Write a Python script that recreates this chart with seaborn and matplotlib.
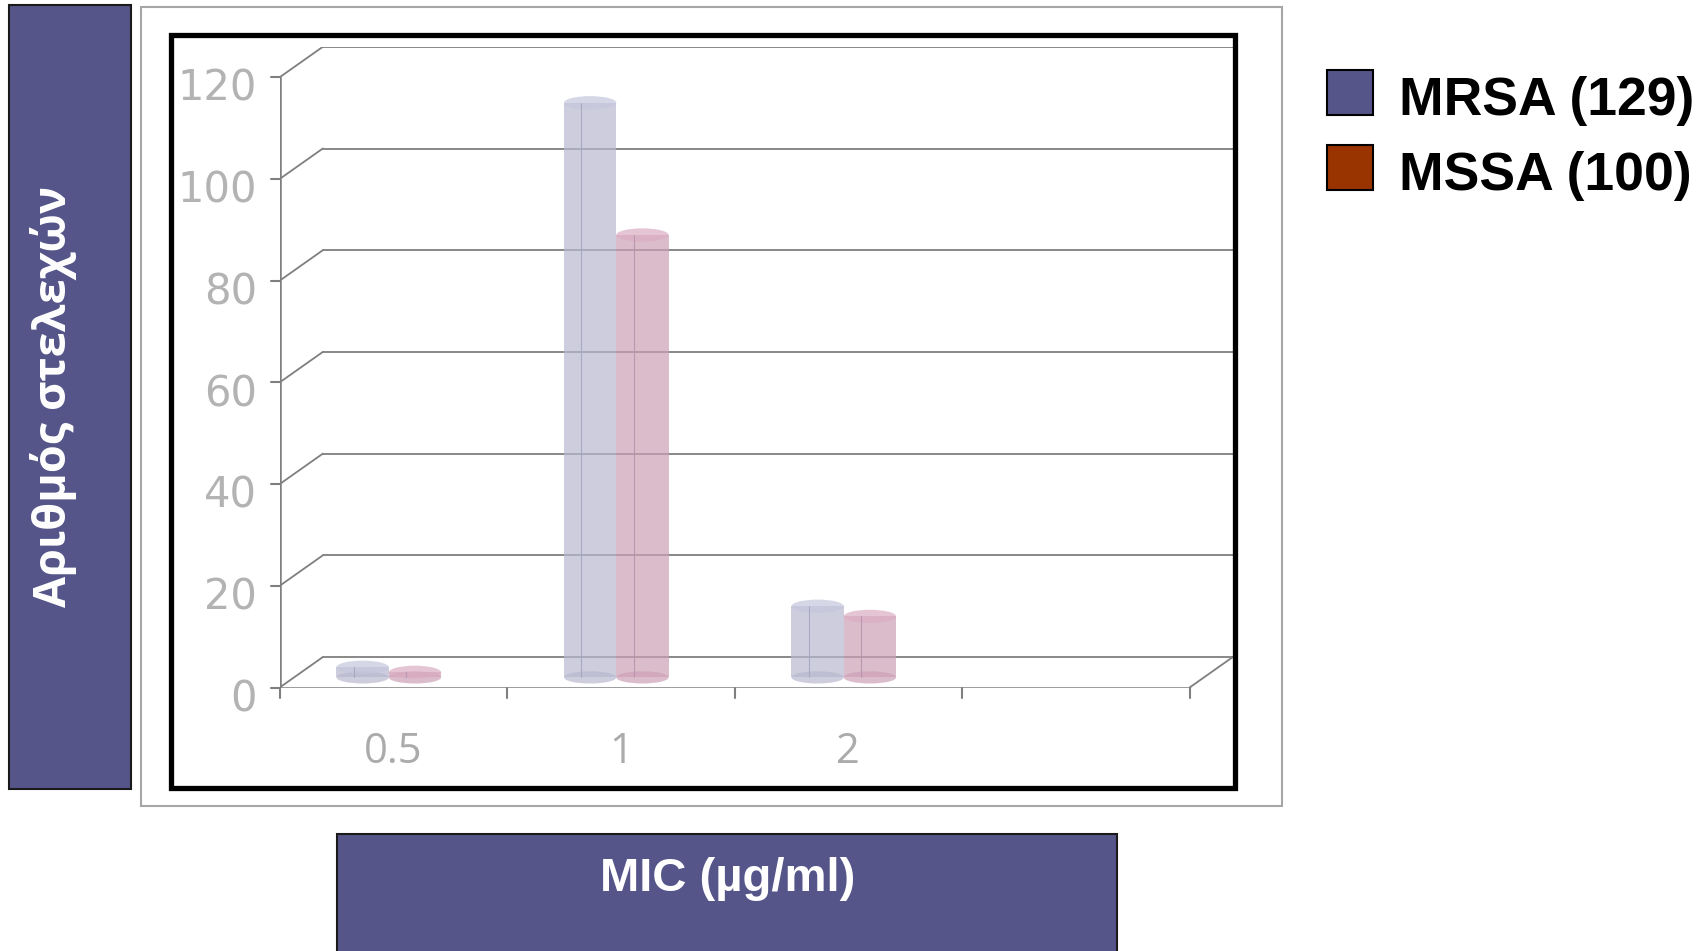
import numpy as np
import pandas as pd
import matplotlib
matplotlib.use("Agg")
import matplotlib.pyplot as plt
import seaborn as sns
from matplotlib.patches import Rectangle, Ellipse

# ---------------- data ----------------
mic_categories = ["0.5", "1", "2", "4"]      # fourth slot is empty in the chart
mic_labels = ["0.5", "1", "2", ""]
mrsa_counts = [2, 113, 14]
mssa_counts = [1, 87, 12]
series_names = ["MRSA (129)", "MSSA (100)"]
y_ticks = [0, 20, 40, 60, 80, 100, 120]
y_label = "Αριθμός στελεχών"
x_label = "MIC (µg/ml)"

bar_colors = ["#B8B9CF", "#CDA0B6"]
legend_colors = ["#55558A", "#993300"]
box_color = "#55558A"

df = pd.DataFrame({
    "mic": mic_categories[:3] * 2,
    "count": mrsa_counts + mssa_counts,
    "strain": [series_names[0]] * 3 + [series_names[1]] * 3,
})

sns.set_theme(style="white")
plt.rcParams["font.family"] = ["DejaVu Sans"]

W, H = 1706, 951
fig = plt.figure(figsize=(W / 100, H / 100), dpi=100)

def fx(px):
    return px / W

def fy(py):
    return 1 - py / H

# frames / boxes in figure space
fig.add_artist(Rectangle((fx(141), fy(806)), fx(1282 - 141), (806 - 7) / H,
                         transform=fig.transFigure, facecolor="white",
                         edgecolor="#A6A6A6", lw=1.5, zorder=0))
fig.add_artist(Rectangle((fx(9), fy(789)), fx(131 - 9), (789 - 5) / H,
                         transform=fig.transFigure, facecolor=box_color,
                         edgecolor="#1a1a1a", lw=1.5, zorder=0))
fig.add_artist(Rectangle((fx(337), fy(960)), fx(1117 - 337), (960 - 834) / H,
                         transform=fig.transFigure, facecolor=box_color,
                         edgecolor="#1a1a1a", lw=1.5, zorder=0))

ax = fig.add_axes([0.1639, 0.2770, 0.5587, 0.6738])
ax.set_facecolor("none")
sns.barplot(data=df, x="mic", y="count", hue="strain", order=mic_categories,
            hue_order=series_names, palette=bar_colors, saturation=1,
            width=0.46, alpha=0.7, edgecolor="none", legend=False,
            errorbar=None, ax=ax, zorder=3)

bars = list(ax.patches)
ax.set_xlim(-0.48, 3.71)
ax.set_ylim(-2, 124)
ax.axis("off")

# pseudo-3D frame
xf0, xf1 = -0.48, 3.52
dx, dy, y0 = 0.19, 6.0, -2.0
grid_c = "#7F7F7F"
for v in y_ticks:
    ax.plot([xf0, xf0 + dx], [v + y0, v + y0 + dy], color=grid_c, lw=1.3, zorder=1)
    ax.plot([xf0 + dx, xf1 + dx], [v + y0 + dy, v + y0 + dy], color=grid_c, lw=1.3, zorder=1)
    ax.plot([xf0 - 0.04, xf0], [v + y0, v + y0], color=grid_c, lw=1.5, zorder=1, clip_on=False)
    ax.text(xf0 - 0.1, v + y0 - 2.3, str(v), ha="right", va="center",
            fontsize=30, color="#B3B3B3", clip_on=False)
ax.plot([xf0, xf0], [y0, 120 + y0], color=grid_c, lw=1.8, zorder=1)
ax.plot([xf0, xf1], [y0, y0], color=grid_c, lw=1.8, zorder=4)
ax.plot([xf1, xf1 + dx], [y0, y0 + dy], color=grid_c, lw=1.3, zorder=1)
for i in range(len(mic_categories) + 1):
    xb = xf0 + i
    ax.plot([xb, xb], [y0, y0 - 2.0], color=grid_c, lw=1.5, zorder=1, clip_on=False)
for i, lab in enumerate(mic_labels):
    ax.text(xf0 + i + 0.5, y0 - 12.7, lab, ha="center", va="center",
            fontsize=30, color="#ABABAB", family="Open Sans", clip_on=False)

# cylinder look on each bar
for p in bars:
    x0, w, h = p.get_x(), p.get_width(), p.get_height()
    if np.isnan(h) or w == 0:
        continue
    fc = p.get_facecolor()
    cx = x0 + w / 2
    ax.add_patch(Ellipse((cx, 0), w, 2.4, facecolor=fc, edgecolor="none", zorder=3))
    top = tuple(min(1, c + 0.05) for c in fc[:3]) + (fc[3],)
    ax.add_patch(Ellipse((cx, h), w, 2.6, facecolor=top, edgecolor="none", zorder=3.5))
    ax.plot([x0 + w * 0.33, x0 + w * 0.33], [0, h], color=fc[:3], lw=0.8,
            alpha=0.9, zorder=3.6)
    ax.plot([x0 + w * 0.33, x0 + w * 0.33], [0, h], color="#8888AA", lw=0.5,
            alpha=0.5, zorder=3.7)

# inner black frame
fig.add_artist(Rectangle((fx(171), fy(788)), fx(1235 - 171), (788 - 35) / H,
                         transform=fig.transFigure, facecolor="none",
                         edgecolor="black", lw=3.8, zorder=5))

# axis titles
fig.text(fx(54), fy(396), y_label, rotation=90, ha="center", va="center",
         color="white", fontsize=32.5, fontweight="bold", family="Open Sans")
fig.text(fx(728), fy(879), x_label, ha="center", va="center",
         color="white", fontsize=34, fontweight="bold", family="Liberation Sans")

# legend
for k, (name, col) in enumerate(zip(series_names, legend_colors)):
    top_px = 70 + k * 75
    fig.add_artist(Rectangle((fx(1327), fy(top_px + 45)), fx(46), 45 / H,
                             transform=fig.transFigure, facecolor=col,
                             edgecolor="black", lw=1.5))
    fig.text(fx(1399), fy(top_px + 31), name, ha="left", va="center",
             fontsize=38.5, fontweight="bold", family="Liberation Sans", color="black")

fig.savefig("out.png", dpi=100)
